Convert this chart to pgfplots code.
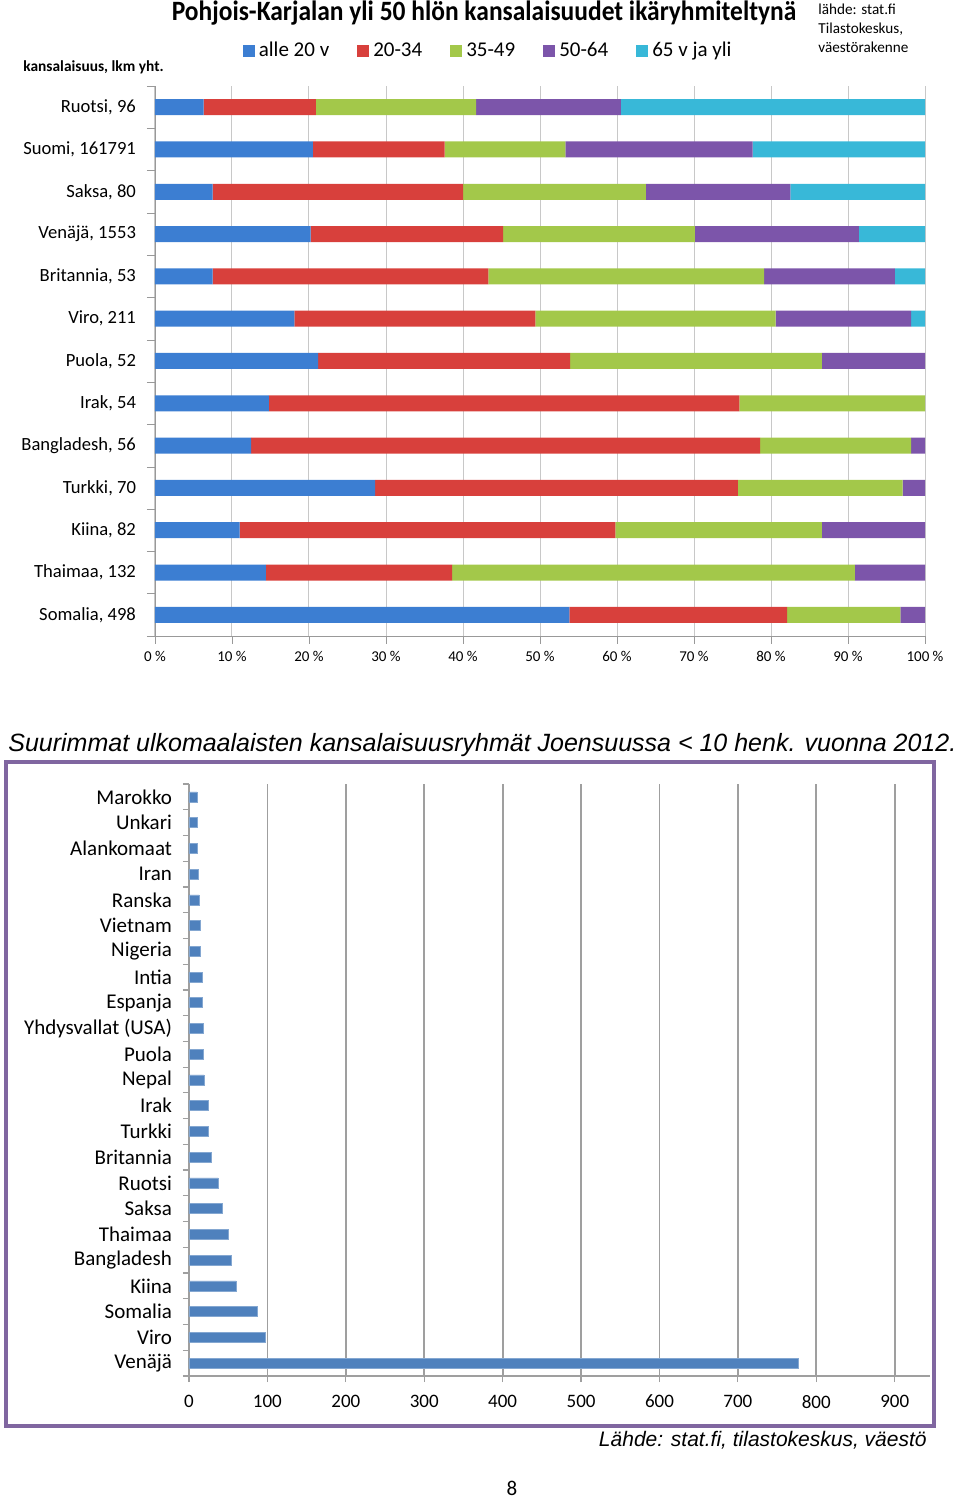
\documentclass[border=0pt]{standalone}
\usepackage{pgfplots}
\pgfplotsset{compat=1.18}
\usepackage{fontspec}
\setmainfont{Carlito}
\newfontfamily\arial{Liberation Sans}
\definecolor{cblue}{HTML}{3C7ED2}
\definecolor{cred}{HTML}{D8403C}
\definecolor{cgreen}{HTML}{A3C84A}
\definecolor{cpurple}{HTML}{7C55AA}
\definecolor{ccyan}{HTML}{38B8D8}
\definecolor{bblue}{HTML}{4F81BD}
\definecolor{frame}{HTML}{8066A0}
\definecolor{gridc}{HTML}{C8C8C8}
\tikzset{bev/.style={fill=#1, draw=none}}
\begin{document}
\begin{tikzpicture}[x=1pt,y=1pt]
\useasboundingbox (0,0) rectangle (480,750);
% ---------- top chart ----------
\begin{axis}[
  at={(77.5pt,432pt)}, anchor=south west,
  scale only axis, width=385pt, height=275pt,
  xbar stacked, bar width=8pt,
  xmin=0, xmax=100, ymin=-0.5, ymax=12.5,
  axis x line*=bottom, axis y line*=left,
  axis line style={-, draw=gray!80},
  xmajorgrids, grid style={gridc, line width=0.5pt},
  xtick={0,10,...,100},
  xticklabels={0 \%,10 \%,20 \%,30 \%,40 \%,50 \%,60 \%,70 \%,80 \%,90 \%,100 \%},
  ytick={0,...,12},
  yticklabels={{Somalia, 498},{Thaimaa, 132},{Kiina, 82},{Turkki, 70},{Bangladesh, 56},{Irak, 54},{Puola, 52},{Viro, 211},{Britannia, 53},{Venäjä, 1553},{Saksa, 80},{Suomi, 161791},{Ruotsi, 96}},
  minor ytick={-0.5,0.5,...,12.5},
  major y tick style={draw=none},
  minor y tick style={draw=gray!80},
  major x tick style={draw=gray!80},
  tick align=outside, major tick length=4pt, minor tick length=4pt,
  tick label style={font=\fontsize{9.3}{10}\selectfont},
  x tick label style={font=\fontsize{7.5}{9}\selectfont, yshift=0pt},
  y tick label style={xshift=-2pt},
  legend columns=5,
  legend style={draw=none, fill=none, at={(0.434,1)}, anchor=center, yshift=17.5pt,
    font=\fontsize{10.5}{12}\selectfont,
    /tikz/every even column/.append style={column sep=12pt}},
  legend image code/.code={\path[#1] (0pt,-3pt) rectangle (6pt,3pt);},
]
\addplot[bev=cblue] coordinates {(53.8,0) (14.4,1) (11.0,2) (28.6,3) (12.5,4) (14.8,5) (21.2,6) (18.1,7) (7.5,8) (20.2,9) (7.5,10) (20.5,11) (6.3,12)};
\addplot[bev=cred] coordinates {(28.3,0) (24.2,1) (48.8,2) (47.1,3) (66.1,4) (61.1,5) (32.7,6) (31.3,7) (35.8,8) (25.0,9) (32.5,10) (17.1,11) (14.6,12)};
\addplot[bev=cgreen] coordinates {(14.7,0) (52.3,1) (26.8,2) (21.4,3) (19.6,4) (24.1,5) (32.7,6) (31.2,7) (35.8,8) (24.9,9) (23.75,10) (15.7,11) (20.8,12)};
\addplot[bev=cpurple] coordinates {(3.2,0) (9.1,1) (13.4,2) (2.9,3) (1.8,4) (0,5) (13.4,6) (17.6,7) (17.0,8) (21.3,9) (18.75,10) (24.3,11) (18.8,12)};
\addplot[bev=ccyan] coordinates {(0,0) (0,1) (0,2) (0,3) (0,4) (0,5) (0,6) (1.8,7) (3.9,8) (8.6,9) (17.5,10) (22.4,11) (39.5,12)};
\legend{alle 20 v,20-34,35-49,50-64,65 v ja yli}
\end{axis}
\node[anchor=base, font=\bfseries\fontsize{14}{16}\selectfont, inner sep=0pt] at (242,739.5) {\scalebox{0.91}[1]{Pohjois-Karjalan yli 50 hlön kansalaisuudet ikäryhmiteltynä}};
\node[anchor=north west, align=left, font=\fontsize{7.6}{9.5}\selectfont, inner sep=0pt] at (409,748) {lähde: stat.fi\\Tilastokeskus,\\väestörakenne};
\node[anchor=west, font=\bfseries\fontsize{7.7}{8}\selectfont, inner sep=0pt] at (11.5,716.5) {kansalaisuus, lkm yht.};
% ---------- bottom chart ----------
\node[anchor=west, inner sep=0pt, font=\arial\itshape\fontsize{12.5}{14}\selectfont] at (4,377.5) {Suurimmat ulkomaalaisten kansalaisuusryhmät Joensuussa < 10 henk. vuonna 2012.};
\draw[frame, line width=1.6pt] (3,369) rectangle (467,37);
\begin{axis}[
  at={(94.5pt,62pt)}, anchor=south west,
  scale only axis, width=370.5pt, height=296pt,
  xbar, bar width=5pt,
  xmin=0, xmax=945, ymin=-0.5, ymax=22.5,
  axis x line*=bottom, axis y line*=left,
  axis line style={-, draw=gray!75, line width=0.9pt},
  xmajorgrids, grid style={gray!75, line width=0.9pt},
  xtick={0,100,...,900},
  ytick={0,...,22},
  yticklabels={Venäjä,Viro,Somalia,Kiina,Bangladesh,Thaimaa,Saksa,Ruotsi,Britannia,Turkki,Irak,Nepal,Puola,{Yhdysvallat (USA)},Espanja,Intia,Nigeria,Vietnam,Ranska,Iran,Alankomaat,Unkari,Marokko},
  minor ytick={-0.5,0.5,...,22.5},
  major y tick style={draw=none},
  minor y tick style={draw=gray!75, line width=0.6pt},
  major x tick style={draw=gray!75, line width=0.6pt},
  tick align=outside, major tick length=3pt, minor tick length=3pt,
  tick label style={font=\fontsize{9.5}{11}\selectfont},
  y tick label style={font=\fontsize{10.5}{11}\selectfont, xshift=-2pt},
  x tick label style={yshift=-3pt},
  /pgf/number format/assume math mode=true,
]
\addplot[fill=bblue, draw=bblue!70!white, line width=0.3pt] coordinates {(777,0) (97,1) (87,2) (60,3) (54,4) (50,5) (43,6) (37,7) (29,8) (24,9) (24,10) (19,11) (18,12) (18,13) (17,14) (17,15) (15,16) (14,17) (13,18) (12,19) (11,20) (11,21) (10,22)};
\end{axis}
\node[anchor=east, inner sep=0pt, font=\arial\itshape\fontsize{10.5}{11}\selectfont] at (463.5,30) {Lähde: stat.fi, tilastokeskus, väestö};
\node[inner sep=0pt, font=\fontsize{10.5}{12}\selectfont] at (256,6) {8};
\end{tikzpicture}
\end{document}
